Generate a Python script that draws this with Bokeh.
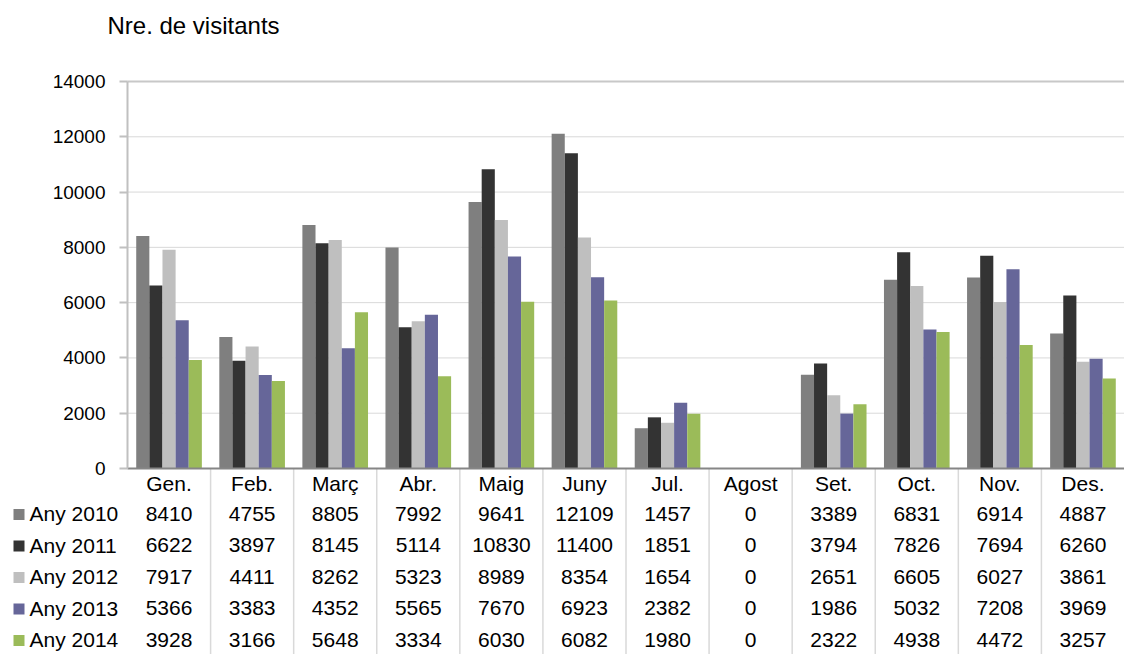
from bokeh.plotting import figure
from bokeh.models import Range1d, FixedTicker, ColumnDataSource
from bokeh.core.properties import value
from bokeh.embed import file_html
from bokeh.resources import INLINE

# ---------------- data ----------------
months = ["Gen.", "Feb.", "Març", "Abr.", "Maig", "Juny", "Jul.", "Agost",
          "Set.", "Oct.", "Nov.", "Des."]
series_names = ["Any 2010", "Any 2011", "Any 2012", "Any 2013", "Any 2014"]
any_2010 = [8410, 4755, 8805, 7992, 9641, 12109, 1457, 0, 3389, 6831, 6914, 4887]
any_2011 = [6622, 3897, 8145, 5114, 10830, 11400, 1851, 0, 3794, 7826, 7694, 6260]
any_2012 = [7917, 4411, 8262, 5323, 8989, 8354, 1654, 0, 2651, 6605, 6027, 3861]
any_2013 = [5366, 3383, 4352, 5565, 7670, 6923, 2382, 0, 1986, 5032, 7208, 3969]
any_2014 = [3928, 3166, 5648, 3334, 6030, 6082, 1980, 0, 2322, 4938, 4472, 3257]
y_ticks = [0, 2000, 4000, 6000, 8000, 10000, 12000, 14000]
title_text = "Nre. de visitants"

series_values = [any_2010, any_2011, any_2012, any_2013, any_2014]
colors = ["#7f7f7f", "#333333", "#bfbfbf", "#666699", "#9bbb59"]

FONT = value("Liberation Sans")

# ---------------- geometry (figure pixels) ----------------
W, H = 1124, 654
AXIS_X = 127          # pixel column of the value axis
TOP_Y = 81            # pixel row of the axis maximum
ZERO = 468            # pixel row of the value 0
n = len(months)
cat_w = (W - AXIS_X) / n
y_max = y_ticks[-1]
upp = y_max / (ZERO - TOP_Y)


def px_y(py):
    return (ZERO - py) * upp


def px_x(px):
    return (px - AXIS_X) / cat_w


p = figure(width=W, height=H, title=None,
           x_range=Range1d(px_x(0), n), y_range=Range1d(px_y(H), px_y(0)),
           min_border_left=0, min_border_right=0, min_border_top=0,
           min_border_bottom=0, x_axis_location=None,
           output_backend="svg", toolbar_location=None)
p.outline_line_color = None
p.xgrid.visible = False
p.ygrid.visible = False

# horizontal gridlines over the plot area only
grid_vals = y_ticks[1:-1]
p.segment(x0=[0] * len(grid_vals), y0=grid_vals, x1=[n] * len(grid_vals), y1=grid_vals,
          line_color="#d9d9d9", line_width=1)
p.segment(x0=[0], y0=[y_max], x1=[n], y1=[y_max], line_color="#c8c8c8", line_width=2)

# bars
bw = 0.158
xc = [i + 0.5 for i in range(n)]
for k, (name, vals, col) in enumerate(zip(series_names, series_values, colors)):
    src = ColumnDataSource(dict(x=[c + (k - 2) * bw for c in xc], top=vals))
    p.vbar(x="x", top="top", bottom=0, width=bw, source=src,
           fill_color=col, line_color=None)

# value axis, fixed at x = 0
p.yaxis.fixed_location = 0
p.yaxis.ticker = FixedTicker(ticks=y_ticks)
p.yaxis.bounds = (0, y_max)
p.yaxis.axis_line_color = "#c0c0c0"
p.yaxis.axis_line_width = 2
p.yaxis.major_tick_line_color = "#c0c0c0"
p.yaxis.major_tick_line_width = 2
p.yaxis.major_tick_out = 8
p.yaxis.major_tick_in = 0
p.yaxis.minor_tick_line_color = None
p.yaxis.major_label_text_font = "Liberation Sans"
p.yaxis.major_label_text_font_size = "19px"
p.yaxis.major_label_text_color = "#000000"
p.yaxis.major_label_standoff = 14

# title
p.text(x=[px_x(107)], y=[px_y(25)], text=[title_text], text_font=FONT,
       text_font_size="24px", text_align="left", text_baseline="middle",
       text_color="#000000")

# data table
seps = list(range(1, n))
p.segment(x0=seps, y0=[0] * len(seps), x1=seps, y1=[px_y(H)] * len(seps),
          line_color="#d9d9d9", line_width=1.5)
p.segment(x0=[0], y0=[0], x1=[n], y1=[0], line_color="#868686", line_width=2)

header_py = 483
row_py0 = 513
row_step = 31.5

p.text(x=xc, y=[px_y(header_py)] * n, text=months, text_font=FONT, text_font_size="21px",
       text_align="center", text_baseline="middle", text_color="#000000")

for k, (name, vals, col) in enumerate(zip(series_names, series_values, colors)):
    ry = px_y(row_py0 + k * row_step)
    p.text(x=xc, y=[ry] * n, text=[str(v) for v in vals], text_font=FONT,
           text_font_size="21px", text_align="center", text_baseline="middle",
           text_color="#000000")
    p.text(x=[px_x(29)], y=[ry], text=[name], text_font=FONT,
           text_font_size="21px", text_align="left", text_baseline="middle",
           text_color="#000000")
    p.rect(x=[px_x(18.5)], y=[px_y(row_py0 + k * row_step + 1)], width=11, height=11,
           width_units="screen", height_units="screen", fill_color=col, line_color=None)

open("out.html", "w").write(file_html(p, INLINE))
